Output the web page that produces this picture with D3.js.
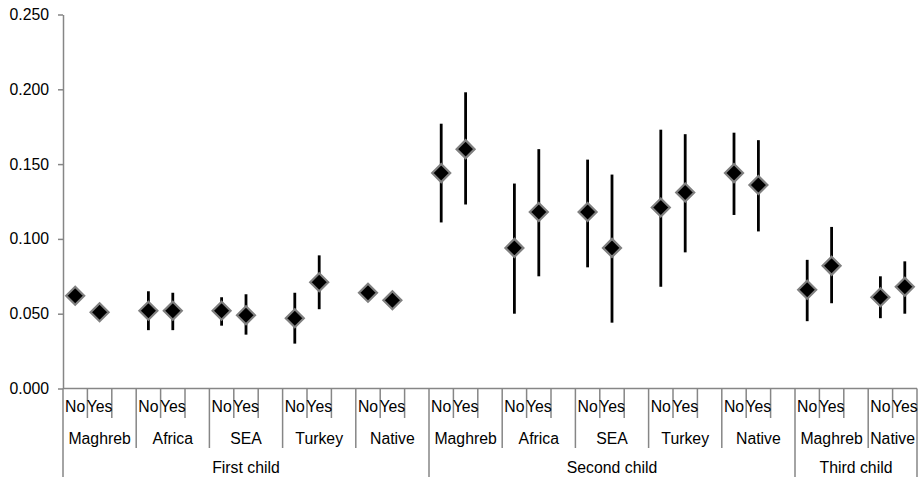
<!DOCTYPE html>
<html>
<head>
<meta charset="utf-8">
<script src="https://cdn.jsdelivr.net/npm/d3@7"></script>
<style>
  html, body { margin: 0; padding: 0; background: #fff; }
  text { font-family: "Liberation Sans", Arial, sans-serif; fill: #000; }
</style>
</head>
<body>
<svg id="chart" width="921" height="480"></svg>
<script>
// ---- data ----
const childLabels = ["First child", "Second child", "Third child"];
const originLabels = ["Maghreb", "Africa", "SEA", "Turkey", "Native",
                      "Maghreb", "Africa", "SEA", "Turkey", "Native",
                      "Maghreb", "Native"];
const originChild = [0, 0, 0, 0, 0, 1, 1, 1, 1, 1, 2, 2];
const statusLabels = ["No", "Yes"];
const yTicks = [0, 0.05, 0.10, 0.15, 0.20, 0.25];

// estimates, in order: group by group, No then Yes
const estimates = [0.062, 0.051, 0.052, 0.052, 0.052, 0.049, 0.047, 0.071, 0.064, 0.059,
                   0.144, 0.160, 0.094, 0.118, 0.118, 0.094, 0.121, 0.131, 0.144, 0.136,
                   0.066, 0.082, 0.061, 0.068];
const lower = [0.057, 0.047, 0.039, 0.039, 0.042, 0.036, 0.030, 0.053, 0.060, 0.055,
               0.111, 0.123, 0.050, 0.075, 0.081, 0.044, 0.068, 0.091, 0.116, 0.105,
               0.045, 0.057, 0.047, 0.050];
const upper = [0.067, 0.055, 0.065, 0.064, 0.061, 0.063, 0.064, 0.089, 0.068, 0.063,
               0.177, 0.198, 0.137, 0.160, 0.153, 0.143, 0.173, 0.170, 0.171, 0.166,
               0.086, 0.108, 0.075, 0.085];

(function () {
// ---- slot layout (No, Yes, blank per origin group; last group has no blank) ----
const slots = [];
originLabels.forEach((o, g) => {
  statusLabels.forEach((s, k) => slots.push({ group: g, status: s, idx: g * 2 + k }));
  if (g < originLabels.length - 1) slots.push({ group: g, status: "", idx: -1 });
});
slots.forEach((s, i) => s.slot = i);

const svg = d3.select("#chart");
const mLeft = 63, mRight = 917, mTop = 14.5, mBottom = 388.5;
const axisColor = "#868686";
const fs = "15.8px";

const x = d3.scaleBand().domain(d3.range(slots.length)).range([mLeft, mRight]).paddingInner(0).paddingOuter(0);
const y = d3.scaleLinear().domain([0, 0.25]).range([mBottom, mTop]);

// y axis
const yAxis = svg.append("g").attr("transform", `translate(${mLeft},0)`)
  .call(d3.axisLeft(y).tickValues(yTicks).tickFormat(d3.format(".3f")).tickSize(5).tickSizeOuter(0).tickPadding(9));
yAxis.select(".domain").attr("stroke", axisColor).attr("stroke-width", 1.5);
yAxis.selectAll(".tick line").attr("stroke", axisColor).attr("stroke-width", 1.5);
yAxis.selectAll(".tick text").attr("font-size", fs).attr("font-family", "Liberation Sans, Arial, sans-serif").attr("fill", "#000");

// x axis: multilevel
const xa = svg.append("g");
const lvl1 = 418, lvl2 = 448, lvl3 = 477;
xa.append("line").attr("x1", mLeft).attr("x2", mRight).attr("y1", mBottom).attr("y2", mBottom)
  .attr("stroke", axisColor).attr("stroke-width", 1.5);

const bounds = d3.range(slots.length + 1).map(i => {
  const xp = i < slots.length ? x(i) : x(slots.length - 1) + x.bandwidth();
  let level = 1;
  if (i === 0 || i === slots.length) level = 3;
  else {
    const prev = slots[i - 1], cur = slots[i];
    if (prev.group !== cur.group) level = originChild[prev.group] !== originChild[cur.group] ? 3 : 2;
  }
  return { x: xp, level };
});
xa.selectAll("line.b").data(bounds).join("line").attr("class", "b")
  .attr("x1", d => d.x).attr("x2", d => d.x)
  .attr("y1", mBottom).attr("y2", d => d.level === 1 ? lvl1 : d.level === 2 ? lvl2 : lvl3)
  .attr("stroke", axisColor).attr("stroke-width", 1.5);

xa.selectAll("text.s").data(slots.filter(s => s.status)).join("text").attr("class", "s")
  .attr("x", d => x(d.slot) + x.bandwidth() / 2).attr("y", 412)
  .attr("text-anchor", "middle").attr("font-size", fs).text(d => d.status);

const groupSpan = originLabels.map((o, g) => {
  const ss = slots.filter(s => s.group === g);
  return { label: o, x0: x(ss[0].slot), x1: x(ss[ss.length - 1].slot) + x.bandwidth() };
});
xa.selectAll("text.o").data(groupSpan).join("text").attr("class", "o")
  .attr("x", d => (d.x0 + d.x1) / 2).attr("y", 444)
  .attr("text-anchor", "middle").attr("font-size", fs).text(d => d.label);

const childSpan = childLabels.map((c, ci) => {
  const gs = groupSpan.filter((g, gi) => originChild[gi] === ci);
  return { label: c, x0: gs[0].x0, x1: gs[gs.length - 1].x1 };
});
xa.selectAll("text.c").data(childSpan).join("text").attr("class", "c")
  .attr("x", d => (d.x0 + d.x1) / 2).attr("y", 472.5)
  .attr("text-anchor", "middle").attr("font-size", fs).text(d => d.label);

// points
const pts = slots.filter(s => s.idx >= 0).map(s => ({
  cx: x(s.slot) + x.bandwidth() / 2, v: estimates[s.idx], lo: lower[s.idx], hi: upper[s.idx]
}));

svg.append("g").selectAll("line").data(pts).join("line")
  .attr("x1", d => d.cx).attr("x2", d => d.cx)
  .attr("y1", d => y(d.lo)).attr("y2", d => y(d.hi))
  .attr("stroke", "#000").attr("stroke-width", 2.8);

const r = 9;
svg.append("g").selectAll("path").data(pts).join("path")
  .attr("d", d => {
    const cy = y(d.v);
    return `M${d.cx},${cy - r}L${d.cx + r},${cy}L${d.cx},${cy + r}L${d.cx - r},${cy}Z`;
  })
  .attr("fill", "#000").attr("stroke", "#808080").attr("stroke-width", 2.2);
})();
</script>
</body>
</html>
